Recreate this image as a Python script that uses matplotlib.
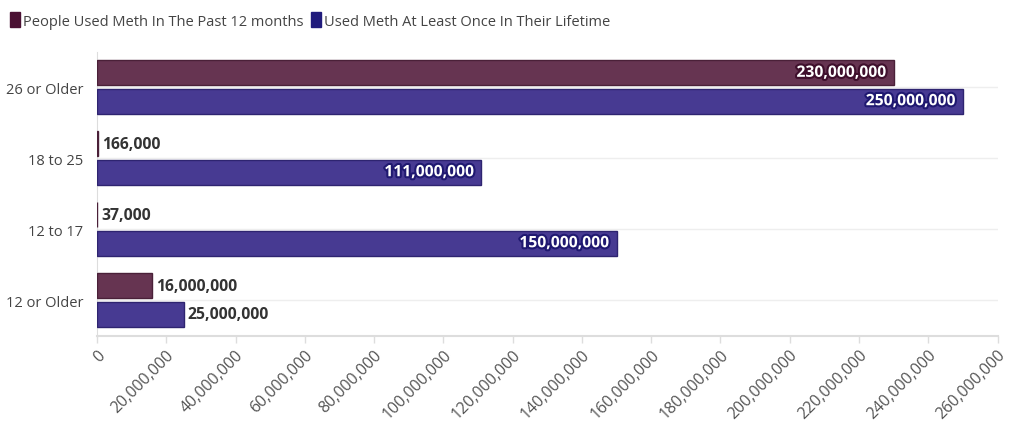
import matplotlib.pyplot as plt
import matplotlib.patheffects as pe
from matplotlib.patches import Patch
from matplotlib.ticker import FuncFormatter, MultipleLocator
import numpy as np

categories = ["26 or Older", "18 to 25", "12 to 17", "12 or Older"]
past_year = [230_000_000, 166_000, 37_000, 16_000_000]
lifetime = [250_000_000, 111_000_000, 150_000_000, 25_000_000]
series_names = ["People Used Meth In The Past 12 months",
                "Used Meth At Least Once In Their Lifetime"]

bar_colors = ["#663451", "#473a92"]
edge_colors = ["#4a2038", "#2e2470"]
text_strokes = ["#3f0f2c", "#1f1870"]
legend_colors = ["#4b1133", "#201b7c"]

fig = plt.figure(figsize=(10.2, 4.35), dpi=100)
ax = fig.add_axes([0.0951, 0.2264, 0.978 - 0.0951, 0.8793 - 0.2264])

y = np.arange(len(categories))
h = 0.35
off = 0.2

for vals, dy, c, ec, sc in [(past_year, -off, bar_colors[0], edge_colors[0], text_strokes[0]),
                            (lifetime, off, bar_colors[1], edge_colors[1], text_strokes[1])]:
    ax.barh(y + dy, vals, height=h, color=c, edgecolor=ec, linewidth=1, zorder=3)
    for yi, v in zip(y, vals):
        txt = f"{v:,}"
        if v > 60_000_000:
            ax.text(v - 2_000_000, yi + dy, txt, ha="right", va="center",
                    fontsize=11.3, fontweight="bold", color="white",
                    family="Open Sans", zorder=4,
                    path_effects=[pe.withStroke(linewidth=3, foreground=sc)])
        else:
            ax.text(v + 1_200_000, yi + dy, txt, ha="left", va="center",
                    fontsize=11.3, fontweight="bold", color="#333333",
                    family="Open Sans", zorder=4)

ax.set_ylim(len(categories) - 0.5, -0.5)
ax.set_xlim(0, 260_000_000)
ax.set_yticks(y)
ax.set_yticklabels(categories, fontsize=10.5, color="#444444", family="Open Sans")
ax.tick_params(axis="y", length=0, pad=10)

ax.xaxis.set_major_locator(MultipleLocator(20_000_000))
ax.xaxis.set_major_formatter(FuncFormatter(lambda v, p: f"{int(v):,}"))
plt.setp(ax.get_xticklabels(), rotation=45, ha="right", rotation_mode="anchor",
         fontsize=11.5, color="#555555", family="Open Sans")
ax.tick_params(axis="x", length=5, color="#dddddd", width=1, pad=3)

ax.grid(axis="y", color="#eeeeee", linewidth=1, zorder=0)
for s in ["top", "right"]:
    ax.spines[s].set_visible(False)
ax.spines["left"].set_color("#dddddd")
ax.spines["bottom"].set_color("#dddddd")
ax.spines["bottom"].set_linewidth(1.5)

handles = [Patch(facecolor=legend_colors[0], edgecolor=legend_colors[0]),
           Patch(facecolor=legend_colors[1], edgecolor=legend_colors[1])]
fig.legend(handles, series_names, loc="upper left", bbox_to_anchor=(-0.003, 1.0),
           ncol=2, frameon=False, handlelength=0.7, handleheight=1.2,
           handletextpad=0.2, columnspacing=0.5,
           prop={"family": "Open Sans", "size": 10.5})
for t in fig.legends[0].get_texts():
    t.set_color("#444444")

fig.savefig("out.png", dpi=100)
